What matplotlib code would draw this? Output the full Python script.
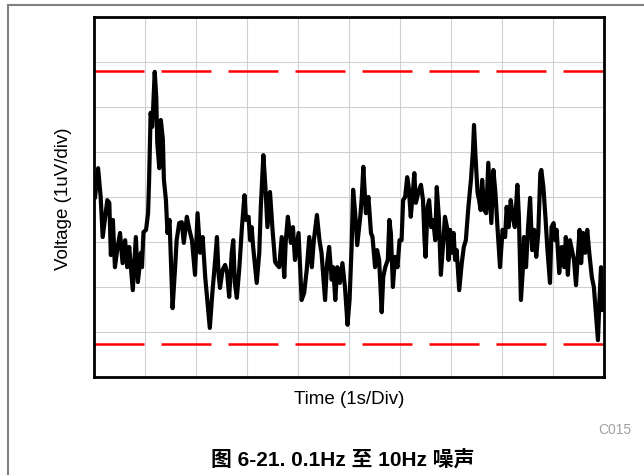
import matplotlib
matplotlib.use("Agg")
import matplotlib.pyplot as plt
from matplotlib.lines import Line2D

plt.rcParams['font.family'] = ['Liberation Sans', 'Noto Sans CJK SC', 'DejaVu Sans']

# 0.1Hz - 10Hz 噪声波形 (读图估计, 时间: s, 电压: uV)
time_s = [
    0.02, 0.08, 0.13, 0.17, 0.22, 0.26, 0.30, 0.33, 0.37, 0.41, 0.46, 0.51, 0.56, 0.61, 0.65, 0.69,
    0.76, 0.82, 0.86, 0.92, 0.94, 0.97, 1.02, 1.06, 1.08, 1.11, 1.14, 1.16, 1.19, 1.22, 1.24, 1.28,
    1.31, 1.35, 1.37, 1.41, 1.44, 1.48, 1.50, 1.54, 1.59, 1.62, 1.67, 1.72, 1.76, 1.82, 1.87, 1.92,
    1.98, 2.03, 2.08, 2.13, 2.18, 2.22, 2.27, 2.32, 2.37, 2.41, 2.44, 2.47, 2.52, 2.57, 2.61, 2.65,
    2.70, 2.73, 2.76, 2.80, 2.85, 2.90, 2.95, 2.98, 3.03, 3.06, 3.09, 3.12, 3.19, 3.24, 3.27, 3.32,
    3.36, 3.40, 3.45, 3.50, 3.55, 3.59, 3.63, 3.68, 3.73, 3.76, 3.80, 3.86, 3.90, 3.94, 4.01, 4.04,
    4.07, 4.12, 4.17, 4.22, 4.27, 4.31, 4.37, 4.42, 4.46, 4.53, 4.57, 4.61, 4.66, 4.69, 4.73, 4.77,
    4.82, 4.87, 4.92, 4.97, 5.01, 5.05, 5.08, 5.12, 5.16, 5.22, 5.25, 5.28, 5.33, 5.38, 5.43, 5.46,
    5.51, 5.55, 5.59, 5.64, 5.67, 5.71, 5.76, 5.79, 5.82, 5.86, 5.90, 5.95, 5.99, 6.03, 6.06, 6.10,
    6.14, 6.17, 6.21, 6.25, 6.28, 6.31, 6.36, 6.41, 6.45, 6.48, 6.50, 6.54, 6.57, 6.61, 6.65, 6.69,
    6.72, 6.76, 6.80, 6.84, 6.88, 6.92, 6.95, 6.98, 7.01, 7.05, 7.08, 7.11, 7.16, 7.21, 7.25, 7.29,
    7.34, 7.39, 7.43, 7.45, 7.48, 7.52, 7.55, 7.58, 7.61, 7.65, 7.69, 7.73, 7.76, 7.79, 7.83, 7.87,
    7.91, 7.96, 8.01, 8.06, 8.09, 8.13, 8.17, 8.21, 8.25, 8.30, 8.33, 8.37, 8.41, 8.43, 8.47, 8.51,
    8.55, 8.59, 8.63, 8.67, 8.71, 8.75, 8.77, 8.81, 8.85, 8.89, 8.94, 8.97, 9.01, 9.04, 9.07, 9.12,
    9.17, 9.22, 9.25, 9.29, 9.33, 9.38, 9.41, 9.45, 9.48, 9.52, 9.55, 9.59, 9.63, 9.67, 9.71, 9.76,
    9.80, 9.84, 9.88, 9.91, 9.94, 9.97,
]
voltage_uv = [
    0.00, 0.64, 0.00, -0.89, -0.44, -0.07, -0.13, -1.29, -0.51, -1.56, -1.13, -0.80, -1.47, -0.96, -1.56, -1.11,
    -2.07, -0.89, -1.89, -1.24, -1.56, -0.78, -0.73, -0.36, 0.38, 1.87, 1.56, 2.00, 2.78, 2.22, 1.20, 0.64,
    1.71, 1.27, 0.38, -0.07, -0.80, -0.51, -1.18, -2.47, -1.56, -0.96, -0.58, -0.56, -1.02, -0.44, -0.73, -0.96,
    -1.73, -0.36, -1.24, -0.89, -1.78, -2.29, -2.91, -2.13, -1.47, -0.89, -1.69, -2.02, -1.62, -1.51, -1.69, -2.22,
    -1.24, -0.96, -1.91, -2.24, -1.56, -0.67, 0.04, -0.51, -0.44, -0.96, -0.67, -1.11, -1.91, -1.24, -0.22, 0.93,
    0.22, -0.67, 0.11, -0.73, -1.44, -1.51, -1.56, -0.89, -1.78, -0.96, -0.44, -1.02, -0.67, -1.40, -0.80, -1.56,
    -2.29, -2.13, -1.62, -0.89, -1.56, -0.96, -0.40, -0.96, -1.24, -2.29, -1.47, -1.11, -1.84, -1.56, -2.29, -1.56,
    -1.91, -1.47, -2.00, -2.84, -2.29, -1.11, 0.16, -0.36, -1.07, -0.44, 0.00, 0.67, -0.36, 0.00, -0.80, -0.89,
    -1.56, -1.18, -1.40, -2.56, -1.78, -1.56, -1.40, -0.51, -0.80, -2.00, -1.33, -1.56, -0.96, -0.96, -0.07, 0.00,
    0.44, 0.22, -0.44, 0.09, 0.53, -0.13, 0.11, 0.27, -0.07, -0.96, -1.33, -0.22, -0.07, -0.67, -0.51, -0.96,
    0.22, -0.44, -1.73, -1.11, -0.44, -0.67, -1.40, -0.73, -1.24, -0.80, -1.40, -1.18, -2.07, -1.47, -1.11, -0.96,
    -0.22, 0.38, 1.04, 1.60, 0.89, 0.09, -0.07, -0.29, 0.38, -0.29, -0.36, 0.76, 0.09, -0.58, 0.60, 0.09,
    -0.67, -1.56, -0.73, -0.89, -0.22, -0.67, -0.07, -0.44, -0.67, 0.27, -0.44, -2.29, -1.56, -0.89, -1.56, -0.67,
    -0.02, -1.18, -0.73, -1.33, -0.80, 0.53, 0.60, 0.22, -0.44, -1.18, -1.91, -0.67, -0.58, -0.96, -0.73, -1.69,
    -1.11, -1.56, -0.89, -1.73, -0.96, -1.24, -1.40, -1.96, -1.40, -0.73, -1.47, -0.80, -1.24, -0.73, -1.24, -1.78,
    -2.00, -2.58, -3.18, -2.29, -1.56, -2.51,
]

# 峰峰值标记线
peak_levels = [2.79, -3.26]

fig = plt.figure(figsize=(6.44, 4.75), dpi=100)
ax = fig.add_axes([0.146, 0.2063, 0.792, 0.758])

ax.plot(time_s, voltage_uv, color='black', linewidth=3.0, solid_joinstyle='round', zorder=3)
for level in peak_levels:
    ax.axhline(level, color='#ff0000', linewidth=1.8, dashes=(20, 6.8), zorder=2)

ax.set_xlim(0, 10)
ax.set_ylim(-4, 4)
ax.set_xticks(range(0, 11))
ax.set_yticks(range(-4, 5))
ax.grid(True, color='#d0d0d0', linewidth=0.8)
ax.tick_params(length=0, labelbottom=False, labelleft=False)
for sp in ax.spines.values():
    sp.set_linewidth(2.0)
    sp.set_color('black')

fig.text(0.098, 0.582, 'Voltage (1uV/div)', rotation=90, ha='center', va='center', fontsize=13.5)
fig.text(0.542, 0.158, 'Time (1s/Div)', ha='center', va='center', fontsize=13.5)
fig.text(0.981, 0.095, 'C015', ha='right', va='center', fontsize=10, color='#a0a0a0')
fig.text(0.532, 0.030, '图 6-21. 0.1Hz 至 10Hz 噪声', ha='center', va='center',
         fontsize=15, fontweight='bold')

# 外框灰线
fig.add_artist(Line2D([0.012, 1.0], [0.989, 0.989], transform=fig.transFigure, color='#808080', linewidth=1.5))
fig.add_artist(Line2D([0.012, 0.012], [0.0, 0.989], transform=fig.transFigure, color='#808080', linewidth=1.5))

fig.savefig('out.png', dpi=100)
